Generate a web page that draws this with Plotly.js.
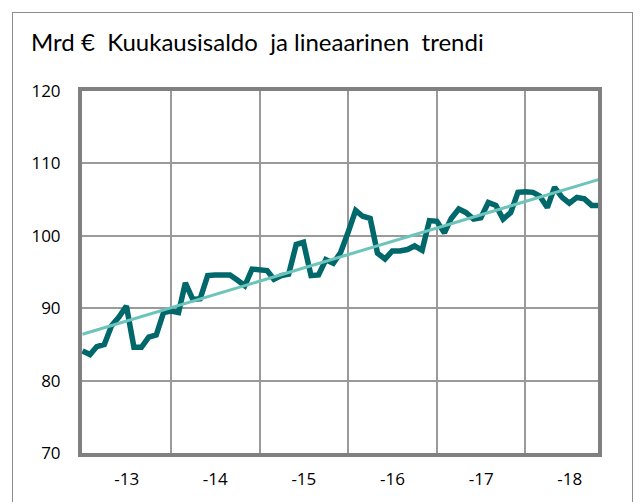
<!DOCTYPE html>
<html>
<head>
<meta charset="utf-8">
<script src="https://cdn.plot.ly/plotly-3.0.1.min.js"></script>
<style>
  html, body { margin: 0; padding: 0; background: #fff; }
  #frame { position: absolute; left: 12px; top: 12px; width: 621px; height: 520px; border: 1.5px solid #8c8c8c; box-sizing: border-box; }
  #chart { position: absolute; left: 0; top: 0; width: 643px; height: 502px; }
</style>
</head>
<body>
<div id="frame"></div>
<div id="chart"></div>
<script>
// Monthly balance, bn €, starting January 2013 (one value per month)
const startYear = 2013;
const monthly = [
  84.1, 83.6, 84.7, 85.0, 87.6, 88.8, 90.3, 84.6, 84.6, 86.0, 86.3, 89.4,
  89.6, 89.4, 93.5, 91.2, 91.3, 94.5, 94.6, 94.6, 94.6, 93.9, 93.1, 95.4,
  95.3, 95.2, 94.0, 94.5, 94.7, 98.8, 99.1, 94.5, 94.6, 96.7, 96.2, 97.7,
  100.5, 103.5, 102.7, 102.4, 97.6, 96.8, 97.9, 97.9, 98.1, 98.6, 98.0, 102.1,
  102.0, 100.4, 102.4, 103.7, 103.2, 102.3, 102.5, 104.6, 104.2, 102.3, 103.2, 106.0,
  106.1, 106.0, 105.5, 103.9, 106.7, 105.3, 104.5, 105.3, 105.1, 104.2, 104.2
];
// Linear trend, read at its two ends
const trendEnds = [86.4, 107.8];
const yTicks = [70, 80, 90, 100, 110, 120];

function monthDate(i) {
  const d = new Date(Date.UTC(startYear, i, 1));
  return d.toISOString().slice(0, 10);
}
const months = monthly.map((_, i) => monthDate(i));
const trendX = [months[0], months[months.length - 1]];

const traces = [
  {
    x: months, y: monthly, type: 'scatter', mode: 'lines',
    line: { color: '#00686a', width: 5.5, shape: 'linear' },
    hoverinfo: 'skip'
  },
  {
    x: trendX, y: trendEnds, type: 'scatter', mode: 'lines',
    line: { color: '#6cc4bb', width: 3 },
    hoverinfo: 'skip'
  }
];

const layout = {
  width: 643, height: 502,
  margin: { l: 82, r: 45, t: 91, b: 49 },
  paper_bgcolor: 'rgba(0,0,0,0)', plot_bgcolor: '#fff',
  showlegend: false,
  font: { family: 'Open Sans, sans-serif', color: '#000' },
  title: {
    text: 'Mrd €  Kuukausisaldo  ja lineaarinen  trendi',
    x: 31 / 643, xref: 'container', xanchor: 'left',
    y: 1 - 34 / 502, yref: 'container', yanchor: 'top',
    pad: { t: 0, b: 0, l: 0, r: 0 },
    font: { size: 24, family: 'Lato, sans-serif', color: '#000' }
  },
  xaxis: {
    type: 'date',
    range: ['2012-12-30', '2018-10-27'],
    dtick: 'M12', tick0: '2013-01-01',
    ticklabelmode: 'period',
    tickformat: '-%y',
    showgrid: true, gridcolor: '#9a9a9a', gridwidth: 2,
    showline: true, linecolor: '#808080', linewidth: 4, mirror: true,
    ticks: 'outside', ticklen: 8, tickcolor: 'rgba(0,0,0,0)',
    tickfont: { size: 17 },
    zeroline: false, fixedrange: true
  },
  yaxis: {
    range: [70, 120],
    tickvals: yTicks,
    showgrid: true, gridcolor: '#9a9a9a', gridwidth: 2,
    showline: true, linecolor: '#808080', linewidth: 4, mirror: true,
    ticks: 'outside', ticklen: 14, tickcolor: 'rgba(0,0,0,0)',
    tickfont: { size: 17 },
    zeroline: false, fixedrange: true
  }
};

Plotly.newPlot('chart', traces, layout, { staticPlot: true, displayModeBar: false });
</script>
</body>
</html>
